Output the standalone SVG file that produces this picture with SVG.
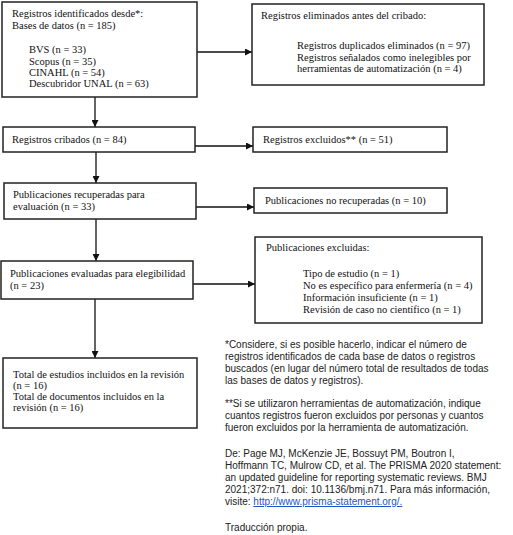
<svg xmlns="http://www.w3.org/2000/svg" width="513" height="535" viewBox="0 0 513 535">
<defs>
<marker id="ah" viewBox="0 0 10 10" refX="10" refY="5" markerWidth="7" markerHeight="7" markerUnits="userSpaceOnUse" orient="auto"><path d="M0,0 L10,5 L0,10 Z" fill="#111"/></marker>
</defs>
<style>
.box{fill:#fff;stroke:#222;stroke-width:1.5}
.t{font-family:"Liberation Serif","Times New Roman",serif;font-size:10.5px;fill:#111}
.f{font-family:"Liberation Sans",Arial,sans-serif;font-size:10px;fill:#222}
.c{stroke:#111;stroke-width:1.3;fill:none;marker-end:url(#ah)}
.link{fill:#1a55cc;text-decoration:underline}
</style>
<rect width="513" height="535" fill="#fff"/>
<g id="connectors">
<path class="c" d="M197,52 H252"/>
<path class="c" d="M95,97 V127"/>
<path class="c" d="M195,146 H253"/>
<path class="c" d="M96,152 V183"/>
<path class="c" d="M196,207 H254"/>
<path class="c" d="M96,219 V261"/>
<path class="c" d="M193,284 H255"/>
<path class="c" d="M95,299 V358"/>
</g>
<g id="identified">
<rect class="box" x="2" y="2" width="195" height="95"/>
<text class="t" x="12" y="17">Registros identificados desde*:</text>
<text class="t" x="12" y="28.5">Bases de datos (n = 185)</text>
<text class="t" x="29" y="53">BVS (n = 33)</text>
<text class="t" x="29" y="64.5">Scopus (n = 35)</text>
<text class="t" x="29" y="76">CINAHL (n = 54)</text>
<text class="t" x="29" y="87">Descubridor UNAL (n = 63)</text>
</g>
<g id="removed">
<rect class="box" x="252" y="4" width="232" height="81"/>
<text class="t" x="261" y="19">Registros eliminados antes del cribado:</text>
<text class="t" x="297" y="49">Registros duplicados eliminados (n = 97)</text>
<text class="t" x="297" y="60.5">Registros señalados como inelegibles por</text>
<text class="t" x="297" y="72">herramientas de automatización (n = 4)</text>
</g>
<g id="screened">
<rect class="box" x="3" y="127" width="192" height="25"/>
<text class="t" x="12" y="143">Registros cribados (n = 84)</text>
</g>
<g id="excluded">
<rect class="box" x="253" y="127" width="194" height="25"/>
<text class="t" x="263" y="143">Registros excluidos** (n = 51)</text>
</g>
<g id="retrieved">
<rect class="box" x="4" y="183" width="192" height="36"/>
<text class="t" x="13" y="197.5">Publicaciones recuperadas para</text>
<text class="t" x="13" y="210">evaluación (n = 33)</text>
</g>
<g id="notretrieved">
<rect class="box" x="254" y="188" width="193" height="25"/>
<text class="t" x="265" y="204">Publicaciones no recuperadas (n = 10)</text>
</g>
<g id="assessed">
<rect class="box" x="1" y="261" width="192" height="38"/>
<text class="t" x="10" y="277">Publicaciones evaluadas para elegibilidad</text>
<text class="t" x="10" y="289">(n = 23)</text>
</g>
<g id="excludedpubs">
<rect class="box" x="255" y="237" width="227" height="86"/>
<text class="t" x="266" y="251">Publicaciones excluidas:</text>
<text class="t" x="303" y="277">Tipo de estudio (n = 1)</text>
<text class="t" x="303" y="289">No es específico para enfermería (n = 4)</text>
<text class="t" x="303" y="301">Información insuficiente (n = 1)</text>
<text class="t" x="303" y="313">Revisión de caso no científico (n = 1)</text>
</g>
<g id="included">
<rect class="box" x="3" y="358" width="194" height="70"/>
<text class="t" x="13" y="378">Total de estudios incluidos en la revisión</text>
<text class="t" x="13" y="389">(n = 16)</text>
<text class="t" x="13" y="400">Total de documentos incluidos en la</text>
<text class="t" x="13" y="411">revisión (n = 16)</text>
</g>
<g id="notes">
<text class="f" x="225" y="348">*Considere, si es posible hacerlo, indicar el número de</text>
<text class="f" x="225" y="360">registros identificados de cada base de datos o registros</text>
<text class="f" x="225" y="372">buscados (en lugar del número total de resultados de todas</text>
<text class="f" x="225" y="384">las bases de datos y registros).</text>
<text class="f" x="225" y="407">**Si se utilizaron herramientas de automatización, indique</text>
<text class="f" x="225" y="419">cuantos registros fueron excluidos por personas y cuantos</text>
<text class="f" x="225" y="431">fueron excluidos por la herramienta de automatización.</text>
<text class="f" x="225" y="457">De:  Page MJ, McKenzie JE, Bossuyt PM, Boutron I,</text>
<text class="f" x="225" y="469">Hoffmann TC, Mulrow CD, et al. The PRISMA 2020 statement:</text>
<text class="f" x="225" y="481">an updated guideline for reporting systematic reviews. BMJ</text>
<text class="f" x="225" y="493">2021;372:n71. doi: 10.1136/bmj.n71. Para más información,</text>
<text class="f" x="225" y="505">visite: <tspan class="link">http://www.prisma-statement.org/.</tspan></text>
<text class="f" x="225" y="531">Traducción propia.</text>
</g>
</svg>
